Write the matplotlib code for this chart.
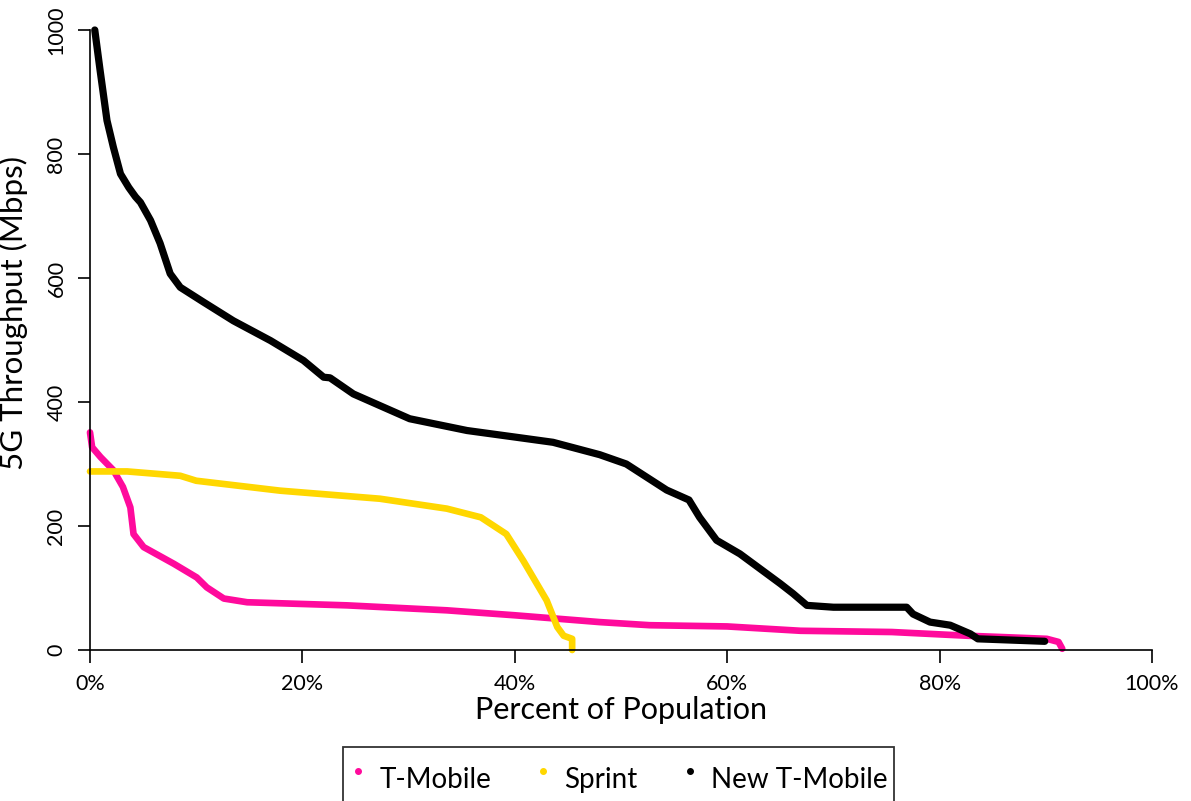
import matplotlib
matplotlib.use('Agg')
import matplotlib.pyplot as plt
from matplotlib.lines import Line2D

plt.rcParams['font.family'] = ['Lato', 'DejaVu Sans']

# T-Mobile
tmo_x = [0, 0.2, 1, 2.2, 3.1, 3.8, 4.1, 5.05, 7.9, 10.05, 11, 12.6, 14.8, 24.2, 33.6, 40, 48,
         52.7, 60, 66.9, 75.5, 82.6, 85.7, 90.1, 91.2, 91.55]
tmo_y = [351, 327, 311, 290, 263, 230, 187, 166, 139, 117, 101, 83, 77, 72, 64, 56, 45,
         40, 38, 31, 29, 23, 21, 18, 13, 2]

# Sprint
spr_x = [0, 3.5, 8.5, 10, 17.9, 27.3, 33.6, 36.8, 39.2, 40.8, 43, 44, 44.6, 45.4, 45.4]
spr_y = [288, 288, 281, 273, 257, 244, 228, 214, 187, 144, 80, 37, 23, 18, 0]

# New T-Mobile
new_x = [0.45, 0.95, 1.6, 2.2, 2.87, 3.65, 4.28, 4.75, 5.7, 6.6, 7.55, 8.5, 10.7, 13.5, 17,
         18.55, 20.1, 22, 22.6, 24.8, 30.1, 35.5, 40.2, 43.6, 48, 50.5, 54.3, 56.4, 57.4,
         59, 61.2, 63.1, 65, 66.2, 67.5, 70, 76.9, 77.5, 79.1, 81, 82.9, 83.6, 89.9]
new_y = [1000, 935, 854, 811, 768, 746, 731, 722, 693, 656, 607, 585, 561, 531, 499,
         483, 467, 440, 439, 413, 373, 354, 343, 335, 315, 300, 258, 242, 214,
         177, 155, 131, 107, 91, 72, 69, 69, 58, 45, 40, 26, 18, 14]

names = ['T-Mobile', 'Sprint', 'New T-Mobile']
colors = ['#FF0A9C', '#FFD700', '#000000']

fig = plt.figure(figsize=(11.91, 8.01), dpi=100)
ax = fig.add_axes([90 / 1191, 1 - 650 / 801, (1152 - 90) / 1191, 620 / 801])

ax.plot(tmo_x, tmo_y, color=colors[0], lw=4.8, solid_capstyle='round', clip_on=False)
ax.plot(spr_x, spr_y, color=colors[1], lw=4.8, solid_capstyle='round', clip_on=False)
ax.plot(new_x, new_y, color=colors[2], lw=5.2, solid_capstyle='round', clip_on=False)

ax.set_xlim(0, 100)
ax.set_ylim(0, 1000)
ax.set_xticks([0, 20, 40, 60, 80, 100])
ax.set_xticklabels(['0%', '20%', '40%', '60%', '80%', '100%'])
ax.set_yticks([0, 200, 400, 600, 800, 1000])
ax.set_yticklabels(['0', '200', '400', '600', '800', '1000'], rotation=90, va='center')

for s in ['top', 'right']:
    ax.spines[s].set_visible(False)
for s in ['left', 'bottom']:
    ax.spines[s].set_linewidth(1.2)
ax.tick_params(axis='both', length=9, width=1.2, labelsize=15.5, pad=8)

ax.set_xlabel('Percent of Population', fontsize=22, labelpad=2)
ax.set_ylabel('5G Throughput (Mbps)', fontsize=22.5)
ax.yaxis.set_label_coords(-0.058, 0.544)

# legend box runs off the bottom of the figure, as in the original
handles = [Line2D([], [], marker='o', ls='none', color=c, markersize=4) for c in colors]
leg = fig.legend(handles, names, loc='upper left', bbox_to_anchor=(343 / 1191, 1 - 747 / 801),
                 borderaxespad=0, ncol=3, fontsize=20, frameon=True, fancybox=False,
                 handlelength=0.6, handleheight=2.4, handletextpad=0.46, columnspacing=1.57,
                 borderpad=0.25)
leg.get_frame().set_edgecolor('black')
leg.get_frame().set_linewidth(1.3)

fig.savefig('out.png', dpi=100)
